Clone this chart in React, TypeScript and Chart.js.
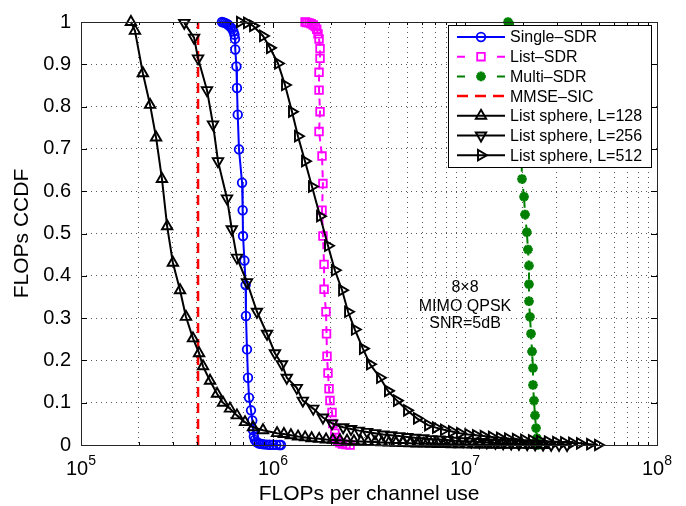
import React, { useEffect, useRef } from 'react';
import { Chart, registerables } from 'chart.js';

Chart.register(...registerables);

const FONT = '"Liberation Sans", Arial, Helvetica, sans-serif';

// ---------------- data ----------------
const seriesNames = [
  'Single–SDR',
  'List–SDR',
  'Multi–SDR',
  'MMSE–SIC',
  'List sphere, L=128',
  'List sphere, L=256',
  'List sphere, L=512',
];

const singleSdrX = [5.42e5, 5.52e5, 5.62e5, 5.72e5, 5.82e5, 5.92e5, 6.02e5, 6.12e5, 6.22e5, 6.3e5, 6.34e5, 6.36e5, 6.45e5, 6.49e5, 6.55e5, 6.65e5, 6.9e5, 6.95e5, 6.98e5, 7.1e5, 7.2e5, 7.23e5, 7.32e5, 7.41e5, 7.5e5, 7.68e5, 7.8e5, 7.87e5, 7.95e5, 8.05e5, 8.2e5, 8.4e5, 8.6e5, 8.8e5, 9.0e5, 9.3e5, 9.6e5, 1.0e6, 1.04e6, 1.08e6, 1.1e6];
const singleSdrY = [1.0, 0.999, 0.998, 0.996, 0.994, 0.991, 0.988, 0.984, 0.978, 0.97, 0.96, 0.935, 0.895, 0.844, 0.781, 0.699, 0.62, 0.555, 0.494, 0.436, 0.378, 0.305, 0.226, 0.159, 0.112, 0.082, 0.058, 0.035, 0.02, 0.012, 0.007, 0.004, 0.003, 0.002, 0.0015, 0.001, 0.0007, 0.0005, 0.0003, 0.0001, 0];

const listSdrX = [1.47e6, 1.5e6, 1.54e6, 1.58e6, 1.62e6, 1.66e6, 1.69e6, 1.716e6, 1.737e6, 1.758e6, 1.758e6, 1.737e6, 1.737e6, 1.758e6, 1.737e6, 1.8e6, 1.82e6, 1.8e6, 1.82e6, 1.845e6, 1.845e6, 1.888e6, 1.9e6, 1.911e6, 1.934e6, 1.958e6, 1.98e6, 2.03e6, 2.05e6, 2.1e6, 2.13e6, 2.17e6, 2.23e6, 2.3e6, 2.4e6, 2.52e6];
const listSdrY = [1.0, 0.999, 0.998, 0.996, 0.993, 0.989, 0.983, 0.972, 0.96, 0.937, 0.914, 0.881, 0.839, 0.788, 0.741, 0.683, 0.618, 0.555, 0.494, 0.427, 0.368, 0.315, 0.263, 0.21, 0.17, 0.133, 0.105, 0.077, 0.051, 0.028, 0.018, 0.01, 0.005, 0.002, 0.001, 0];

const multiSdrX = [1.675e7, 1.7e7, 1.736e7, 1.8e7, 1.844e7, 1.888e7, 1.911e7, 1.934e7, 1.958e7, 1.97e7, 1.981e7, 2.03e7, 2.054e7, 2.1e7, 2.128e7, 2.154e7, 2.154e7, 2.154e7, 2.18e7, 2.207e7, 2.234e7, 2.26e7, 2.26e7, 2.287e7, 2.315e7, 2.344e7, 2.37e7, 2.4e7];
const multiSdrY = [1.0, 0.995, 0.979, 0.944, 0.902, 0.855, 0.809, 0.762, 0.716, 0.671, 0.629, 0.587, 0.545, 0.503, 0.462, 0.424, 0.38, 0.34, 0.303, 0.263, 0.221, 0.182, 0.142, 0.105, 0.07, 0.04, 0.016, 0];

const mmseSicX = [4.07e5, 4.07e5];
const mmseSicY = [0, 1];

const sphere128X = [1.82e5, 1.91e5, 2.1e5, 2.29e5, 2.46e5, 2.64e5, 2.81e5, 3.01e5, 3.28e5, 3.52e5, 3.83e5, 4.12e5, 4.32e5, 4.7e5, 5.11e5, 5.49e5, 5.97e5, 6.49e5, 7.15e5, 7.87e5, 8.87e5, 1.05e6, 1.14e6, 1.24e6, 1.35e6, 1.47e6, 1.59e6, 1.74e6, 1.89e6, 2.05e6, 2.23e6, 2.43e6, 2.64e6, 2.87e6, 3.12e6, 3.4e6, 3.69e6, 4.02e6, 4.37e6, 4.75e6, 5.17e6, 5.62e6, 6.11e6, 6.65e6, 7.23e6, 7.86e6, 8.55e6, 9.3e6, 1.01e7, 1.1e7, 1.2e7, 1.3e7, 1.42e7, 1.54e7, 1.68e7, 1.82e7, 1.98e7, 2.16e7, 2.35e7, 2.55e7];
const sphere128Y = [1.0, 0.979, 0.879, 0.804, 0.727, 0.629, 0.517, 0.431, 0.366, 0.303, 0.252, 0.217, 0.186, 0.152, 0.121, 0.1, 0.086, 0.07, 0.054, 0.042, 0.035, 0.028, 0.026, 0.023, 0.02, 0.018, 0.016, 0.0145, 0.013, 0.012, 0.011, 0.01, 0.009, 0.0082, 0.0075, 0.0068, 0.0062, 0.0056, 0.005, 0.0045, 0.004, 0.0036, 0.0032, 0.0028, 0.0025, 0.0022, 0.0019, 0.0016, 0.0014, 0.0012, 0.001, 0.0008, 0.0007, 0.0006, 0.0005, 0.0004, 0.0003, 0.0002, 0.0001, 0];

const sphere256X = [3.45e5, 3.88e5, 4.07e5, 4.53e5, 4.87e5, 5.17e5, 5.76e5, 6.1e5, 6.49e5, 7.32e5, 8.25e5, 9.31e5, 1.024e6, 1.114e6, 1.18e6, 1.33e6, 1.43e6, 1.62e6, 1.82e6, 2.03e6, 2.32e6, 2.55e6, 2.8e6, 3.09e6, 3.4e6, 3.75e6, 4.12e6, 4.54e6, 5.0e6, 5.5e6, 6.05e6, 6.66e6, 7.33e6, 8.07e6, 8.88e6, 9.78e6, 1.08e7, 1.19e7, 1.3e7, 1.44e7, 1.58e7, 1.74e7, 1.91e7, 2.11e7, 2.32e7, 2.55e7, 2.81e7, 3.09e7, 3.4e7];
const sphere256Y = [0.998, 0.963, 0.914, 0.839, 0.758, 0.671, 0.583, 0.51, 0.443, 0.385, 0.315, 0.263, 0.217, 0.191, 0.159, 0.135, 0.105, 0.086, 0.065, 0.051, 0.042, 0.038, 0.034, 0.031, 0.028, 0.025, 0.023, 0.021, 0.019, 0.017, 0.016, 0.014, 0.013, 0.012, 0.01, 0.009, 0.008, 0.007, 0.006, 0.005, 0.004, 0.0033, 0.0026, 0.002, 0.0014, 0.0009, 0.0005, 0.0002, 0];

const sphere512X = [6.73e5, 7.32e5, 7.87e5, 8.87e5, 9.64e5, 1.062e6, 1.155e6, 1.256e6, 1.349e6, 1.468e6, 1.596e6, 1.758e6, 1.934e6, 2.1e6, 2.29e6, 2.46e6, 2.67e6, 2.94e6, 3.2e6, 3.61e6, 3.97e6, 4.42e6, 4.99e6, 5.62e6, 6.42e6, 7.06e6, 7.77e6, 8.55e6, 9.41e6, 1.04e7, 1.14e7, 1.25e7, 1.38e7, 1.52e7, 1.675e7, 1.84e7, 2.03e7, 2.23e7, 2.46e7, 2.7e7, 2.98e7, 3.28e7, 3.61e7, 3.97e7, 4.48e7, 4.93e7];
const sphere512Y = [1.0, 0.998, 0.991, 0.967, 0.939, 0.902, 0.851, 0.788, 0.73, 0.671, 0.611, 0.541, 0.471, 0.413, 0.366, 0.315, 0.273, 0.228, 0.191, 0.159, 0.128, 0.105, 0.082, 0.063, 0.047, 0.041, 0.036, 0.032, 0.028, 0.025, 0.023, 0.021, 0.019, 0.017, 0.015, 0.014, 0.012, 0.011, 0.0095, 0.008, 0.007, 0.006, 0.005, 0.004, 0.002, 0];

// axes
const xMin = 1e5;
const xMax = 1e8;
const xMajorTicks = [1e5, 1e6, 1e7, 1e8];
const xMajorExponents = ['5', '6', '7', '8'];
const yTickValues = [0, 0.1, 0.2, 0.3, 0.4, 0.5, 0.6, 0.7, 0.8, 0.9, 1];
const yTickLabels = ['0', '0.1', '0.2', '0.3', '0.4', '0.5', '0.6', '0.7', '0.8', '0.9', '1'];
const xTitle = 'FLOPs per channel use';
const yTitle = 'FLOPs CCDF';

// annotation
const noteLines = ['8×8', 'MIMO QPSK', 'SNR=5dB'];
const noteX = 1e7;
const noteY = [0.372, 0.328, 0.288];

// ---------------- styling ----------------
type Style = {
  color: string;
  width: number;
  dash: number[];
  legendDash: number[];
  marker: string | null;
  rot: number;
  r: number;
  mlw: number;
};

const styles: Style[] = [
  { color: '#0000ff', width: 2, dash: [], legendDash: [], marker: 'circle', rot: 0, r: 4.3, mlw: 1.8 },
  { color: '#ff00ff', width: 2, dash: [7, 5], legendDash: [8, 32], marker: 'rect', rot: 0, r: 5.4, mlw: 1.8 },
  { color: '#008000', width: 2, dash: [7, 5], legendDash: [8, 32], marker: 'star', rot: 0, r: 4.8, mlw: 3 },
  { color: '#ff0000', width: 2.5, dash: [10, 6], legendDash: [11, 7], marker: null, rot: 0, r: 0, mlw: 0 },
  { color: '#000000', width: 2, dash: [], legendDash: [], marker: 'triangle', rot: 0, r: 6, mlw: 1.9 },
  { color: '#000000', width: 2, dash: [], legendDash: [], marker: 'triangle', rot: 180, r: 6, mlw: 1.9 },
  { color: '#000000', width: 2, dash: [], legendDash: [], marker: 'triangle', rot: 90, r: 6, mlw: 1.9 },
];

const seriesX = [singleSdrX, listSdrX, multiSdrX, mmseSicX, sphere128X, sphere256X, sphere512X];
const seriesY = [singleSdrY, listSdrY, multiSdrY, mmseSicY, sphere128Y, sphere256Y, sphere512Y];

const GRID = 'rgba(0,0,0,0.65)';

function drawMarker(ctx: CanvasRenderingContext2D, st: Style, x: number, y: number) {
  if (!st.marker) return;
  ctx.save();
  ctx.setLineDash([]);
  ctx.strokeStyle = st.color;
  ctx.lineWidth = st.mlw;
  ctx.translate(x, y);
  ctx.rotate((st.rot * Math.PI) / 180);
  ctx.beginPath();
  const r = st.r;
  if (st.marker === 'circle') {
    ctx.arc(0, 0, r, 0, Math.PI * 2);
  } else if (st.marker === 'rect') {
    const s = r * Math.SQRT1_2;
    ctx.rect(-s, -s, 2 * s, 2 * s);
  } else if (st.marker === 'triangle') {
    for (let k = 0; k < 3; k++) {
      const a = (k * 2 * Math.PI) / 3;
      const px = Math.sin(a) * r;
      const py = -Math.cos(a) * r;
      if (k === 0) ctx.moveTo(px, py);
      else ctx.lineTo(px, py);
    }
    ctx.closePath();
  } else if (st.marker === 'star') {
    for (let k = 0; k < 4; k++) {
      const a = (k * Math.PI) / 4;
      ctx.moveTo(Math.cos(a) * r, Math.sin(a) * r);
      ctx.lineTo(-Math.cos(a) * r, -Math.sin(a) * r);
    }
  }
  ctx.stroke();
  ctx.restore();
}

const overlayPlugin = {
  id: 'overlay',
  afterDraw(chart: any) {
    const ctx: CanvasRenderingContext2D = chart.ctx;
    const a = chart.chartArea;
    const xs = chart.scales.x;
    const ys = chart.scales.y;
    ctx.save();

    // tick marks (inside) on all four sides
    ctx.strokeStyle = '#000';
    ctx.lineWidth = 1;
    ctx.setLineDash([]);
    ctx.beginPath();
    for (let e = 5; e <= 8; e++) {
      for (let m = 1; m <= 9; m++) {
        const v = m * Math.pow(10, e);
        if (v > xMax) break;
        const px = Math.round(xs.getPixelForValue(v)) + 0.5;
        const len = m === 1 ? 6 : 3;
        ctx.moveTo(px, a.bottom);
        ctx.lineTo(px, a.bottom - len);
        ctx.moveTo(px, a.top);
        ctx.lineTo(px, a.top + len);
      }
    }
    yTickValues.forEach((v) => {
      const py = Math.round(ys.getPixelForValue(v)) + 0.5;
      ctx.moveTo(a.left, py);
      ctx.lineTo(a.left + 6, py);
      ctx.moveTo(a.right, py);
      ctx.lineTo(a.right - 6, py);
    });
    ctx.stroke();

    // axes box
    ctx.strokeStyle = '#262626';
    ctx.strokeRect(Math.round(a.left) + 0.5, Math.round(a.top) + 0.5, Math.round(a.right - a.left), Math.round(a.bottom - a.top));

    // x tick labels with superscripts
    ctx.fillStyle = '#000';
    ctx.textBaseline = 'alphabetic';
    ctx.textAlign = 'left';
    xMajorTicks.forEach((v, i) => {
      const px = xs.getPixelForValue(v);
      ctx.font = `20px ${FONT}`;
      const w1 = ctx.measureText('10').width;
      ctx.font = `14px ${FONT}`;
      const w2 = ctx.measureText(xMajorExponents[i]).width;
      const start = px - (w1 + w2) / 2;
      ctx.font = `20px ${FONT}`;
      ctx.fillText('10', start, a.bottom + 30);
      ctx.font = `14px ${FONT}`;
      ctx.fillText(xMajorExponents[i], start + w1, a.bottom + 20);
    });

    // axis titles
    ctx.font = `21px ${FONT}`;
    ctx.textAlign = 'center';
    ctx.fillText(xTitle, (a.left + a.right) / 2, a.bottom + 55);
    ctx.save();
    ctx.translate(28, (a.top + a.bottom) / 2);
    ctx.rotate(-Math.PI / 2);
    ctx.fillText(yTitle, 0, 0);
    ctx.restore();

    // annotation
    ctx.font = `16px ${FONT}`;
    ctx.textAlign = 'center';
    ctx.textBaseline = 'middle';
    noteLines.forEach((t, i) => {
      ctx.fillText(t, xs.getPixelForValue(noteX), ys.getPixelForValue(noteY[i]));
    });

    // legend box
    const lx = 448, ly = 25, lw = 203, lh = 142;
    ctx.fillStyle = '#fff';
    ctx.fillRect(lx, ly, lw, lh);
    ctx.strokeStyle = '#000';
    ctx.lineWidth = 1;
    ctx.strokeRect(lx + 0.5, ly + 0.5, lw, lh);
    const rowH = 19.7;
    seriesNames.forEach((name, i) => {
      const st = styles[i];
      const cy = ly + 12 + i * rowH;
      ctx.save();
      ctx.strokeStyle = st.color;
      ctx.lineWidth = st.width;
      ctx.setLineDash(st.legendDash);
      ctx.beginPath();
      ctx.moveTo(457, cy);
      ctx.lineTo(505, cy);
      ctx.stroke();
      ctx.restore();
      drawMarker(ctx, st, 481, cy);
      ctx.fillStyle = '#000';
      ctx.font = `16px ${FONT}`;
      ctx.textAlign = 'left';
      ctx.textBaseline = 'middle';
      ctx.fillText(name, 510, cy + 1);
    });

    ctx.restore();
  },
};

export default function App() {
  const ref = useRef<HTMLCanvasElement>(null);
  useEffect(() => {
    const canvas = ref.current;
    if (!canvas) return;
    const datasets = seriesNames.map((name, i) => {
      const st = styles[i];
      return {
        label: name,
        data: seriesX[i].map((x, k) => ({ x, y: seriesY[i][k] })),
        showLine: true,
        borderColor: st.color,
        backgroundColor: 'rgba(0,0,0,0)',
        borderWidth: st.width,
        borderDash: st.dash,
        pointStyle: st.marker || 'circle',
        pointRadius: st.marker ? st.r : 0,
        pointRotation: st.rot,
        pointBorderColor: st.color,
        pointBackgroundColor: 'rgba(0,0,0,0)',
        pointBorderWidth: st.mlw,
        clip: false as any,
        order: seriesNames.length - i,
        tension: 0,
      };
    });
    const xGrid: number[] = [];
    for (let e = 5; e <= 7; e++) for (let m = 1; m <= 9; m++) xGrid.push(m * Math.pow(10, e));
    xGrid.push(xMax);

    const chart = new Chart(canvas, {
      type: 'scatter',
      data: { datasets: datasets as any },
      options: {
        animation: false,
        responsive: false,
        devicePixelRatio: 1,
        events: [],
        layout: { padding: { left: 0, right: 29, top: 16, bottom: 0 } },
        plugins: { legend: { display: false }, tooltip: { enabled: false } },
        scales: {
          x: {
            type: 'logarithmic',
            min: xMin,
            max: xMax,
            afterBuildTicks: (s: any) => {
              s.ticks = xGrid.map((v) => ({ value: v }));
            },
            afterFit: (s: any) => {
              s.height = 61;
            },
            ticks: { display: false, autoSkip: false },
            grid: { color: GRID, lineWidth: 1, drawTicks: false },
            border: { display: false, dash: [1, 4] },
          },
          y: {
            type: 'linear',
            min: 0,
            max: 1,
            afterBuildTicks: (s: any) => {
              s.ticks = yTickValues.map((v) => ({ value: v }));
            },
            afterFit: (s: any) => {
              s.width = 81;
            },
            ticks: {
              autoSkip: false,
              padding: 10,
              color: '#000',
              font: { family: FONT, size: 20 },
              callback: (_v: any, i: number) => yTickLabels[i],
            },
            grid: { color: GRID, lineWidth: 1, drawTicks: false },
            border: { display: false, dash: [1, 4] },
          },
        },
      } as any,
      plugins: [overlayPlugin],
    });
    return () => chart.destroy();
  }, []);
  return (
    <div style={{ position: 'fixed', left: 0, top: 0, width: 686, height: 506, background: '#fff' }}>
      <canvas ref={ref} width={686} height={506} style={{ display: 'block' }} />
    </div>
  );
}
